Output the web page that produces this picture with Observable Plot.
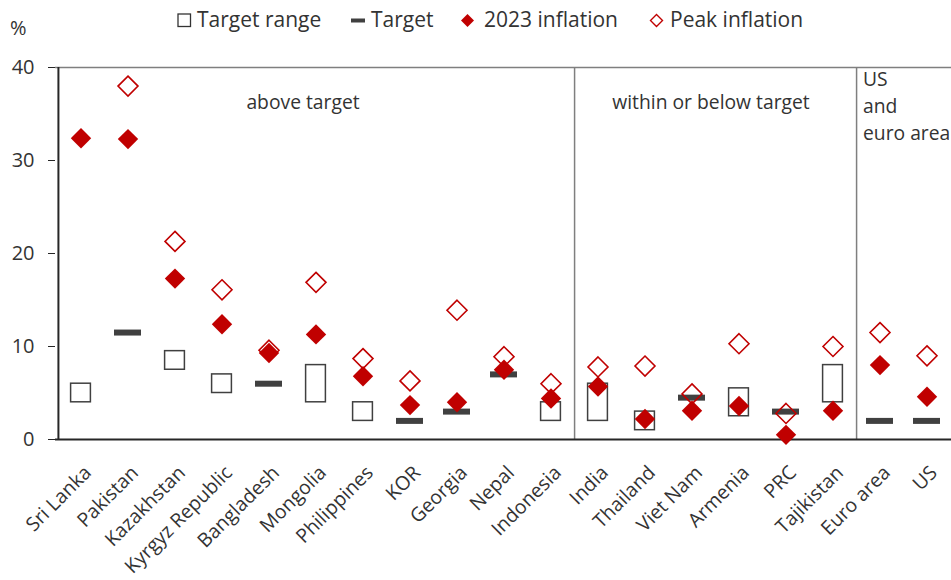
<!DOCTYPE html>
<html>
<head>
<meta charset="utf-8">
<script src="https://cdn.jsdelivr.net/npm/d3@7"></script>
<script src="https://cdn.jsdelivr.net/npm/@observablehq/plot@0.6"></script>
<style>
  body { margin: 0; background: #fff; font-family: "Open Sans", sans-serif; color: #333; }
  #wrap { width: 951px; }
  #legend { display: block; overflow: visible; }
  #chart svg { display: block; }
</style>
</head>
<body>
<div id="wrap">
  <svg id="legend" width="951" height="40" font-family="'Open Sans', sans-serif" fill="#333">
    <text x="10" y="35" font-size="20">%</text>
    <rect x="178" y="14" width="12.5" height="12.5" fill="#fff" stroke="#333" stroke-width="1.3"/>
    <text x="197" y="27" font-size="21">Target range</text>
    <rect x="351" y="18.5" width="14" height="4" fill="#404040"/>
    <text x="371" y="27" font-size="21">Target</text>
    <path d="M467.5 14 L474 20.5 L467.5 27 L461 20.5 Z" fill="#C00000"/>
    <text x="484" y="27" font-size="21">2023 inflation</text>
    <path d="M656.5 14.5 L662.5 20.5 L656.5 26.5 L650.5 20.5 Z" fill="none" stroke="#C00000" stroke-width="1.4"/>
    <text x="670" y="27" font-size="21">Peak inflation</text>
  </svg>
  <div id="chart"></div>
</div>
<script>
const countries = ["Sri Lanka","Pakistan","Kazakhstan","Kyrgyz Republic","Bangladesh","Mongolia","Philippines","KOR","Georgia","Nepal","Indonesia","India","Thailand","Viet Nam","Armenia","PRC","Tajikistan","Euro area","US"];

// 2023 inflation (%)
const inflation2023 = [
  ["Sri Lanka",32.4],["Pakistan",32.3],["Kazakhstan",17.3],["Kyrgyz Republic",12.4],["Bangladesh",9.3],
  ["Mongolia",11.3],["Philippines",6.8],["KOR",3.7],["Georgia",4.0],["Nepal",7.5],["Indonesia",4.4],
  ["India",5.7],["Thailand",2.2],["Viet Nam",3.1],["Armenia",3.6],["PRC",0.5],["Tajikistan",3.1],
  ["Euro area",8.0],["US",4.6]
];

// Peak inflation (%) — Sri Lanka's peak lies off the chart's range
const peakInflation = [
  ["Pakistan",38.0],["Kazakhstan",21.3],["Kyrgyz Republic",16.1],["Bangladesh",9.6],
  ["Mongolia",16.9],["Philippines",8.7],["KOR",6.3],["Georgia",13.9],["Nepal",8.9],["Indonesia",6.0],
  ["India",7.8],["Thailand",7.9],["Viet Nam",4.9],["Armenia",10.3],["PRC",2.8],["Tajikistan",10.0],
  ["Euro area",11.5],["US",9.0]
];

// Target ranges (low, high)
const targetRanges = [
  ["Sri Lanka",4,6],["Kazakhstan",7.5,9.5],["Kyrgyz Republic",5,7],["Mongolia",4,8],["Philippines",2,4],
  ["Indonesia",2,4],["India",2,6],["Thailand",1,3],["Armenia",2.5,5.5],["Tajikistan",4,8]
];

// Point targets
const pointTargets = [
  ["Pakistan",11.5],["Bangladesh",6.0],["KOR",2.0],["Georgia",3.0],["Nepal",7.0],
  ["Viet Nam",4.5],["PRC",3.0],["Euro area",2.0],["US",2.0]
];

const yTicks = [0,10,20,30,40];

const noteAbove = [{x:"Mongolia", y:36.2, text:"above target"}];
const noteWithin = [{x:"Viet Nam", y:36.2, text:"within or below target"}];
const noteUS = [{x:"Euro area", y:36.0, text:"US\nand\neuro area"}];
const groupEnds = ["Indonesia","Tajikistan"];

const W = 951, ML = 55, MR = 0;
const bw = (W - ML - MR) / countries.length;

const red = "#C00000", dark = "#404040";

const chart = Plot.plot({
  width: W,
  height: 540,
  marginTop: 27,
  marginBottom: 141,
  marginLeft: ML,
  marginRight: MR,
  style: {fontFamily: "'Open Sans', sans-serif", color: "#333", background: "#fff"},
  x: {domain: countries, padding: 0, label: null},
  y: {domain: [0, 40], label: null},
  marks: [
    Plot.ruleY([40], {stroke: "#7f7f7f", strokeWidth: 1.5}),
    Plot.ruleX(groupEnds, {x: d => d, dx: bw / 2, y1: 0, y2: 40, stroke: "#7f7f7f", strokeWidth: 1.5}),
    Plot.ruleX([countries[0]], {x: d => d, dx: -bw / 2 + 1, y1: 0, y2: 40, stroke: "#262626", strokeWidth: 2}),
    Plot.ruleY([0], {stroke: "#262626", strokeWidth: 2}),
    Plot.axisY({ticks: yTicks, tickSize: 7, tickPadding: 14, fontSize: 20, stroke: "#262626", tickFormat: d => d}),
    Plot.axisX({tickSize: 0, tickRotate: -45, tickPadding: 30, fontSize: 19.5, dx: 7}),
    Plot.barY(targetRanges, {x: d => d[0], y1: d => d[1], y2: d => d[2], fill: "#fff", stroke: dark, strokeWidth: 1.5, insetLeft: 13.6, insetRight: 13.6}),
    Plot.tickY(pointTargets, {x: d => d[0], y: d => d[1], stroke: dark, strokeWidth: 6, insetLeft: 10, insetRight: 10}),
    Plot.dot(peakInflation, {x: d => d[0], y: d => d[1], symbol: "diamond2", r: 9, stroke: red, fill: "none", strokeWidth: 1.6}),
    Plot.dot(inflation2023, {x: d => d[0], y: d => d[1], symbol: "diamond2", r: 9.2, fill: red, stroke: "none"}),
    Plot.text(noteAbove, {x: "x", y: "y", text: "text", dx: -13, textAnchor: "middle", fontSize: 19.3, fill: "#333"}),
    Plot.text(noteWithin, {x: "x", y: "y", text: "text", dx: 19, textAnchor: "middle", fontSize: 19.3, fill: "#333"}),
    Plot.text(noteUS, {x: "x", y: "y", text: "text", dx: -17, textAnchor: "start", lineAnchor: "middle", lineHeight: 1.4, fontSize: 19.3, fill: "#333"})
  ]
});
document.getElementById("chart").appendChild(chart);
</script>
</body>
</html>
